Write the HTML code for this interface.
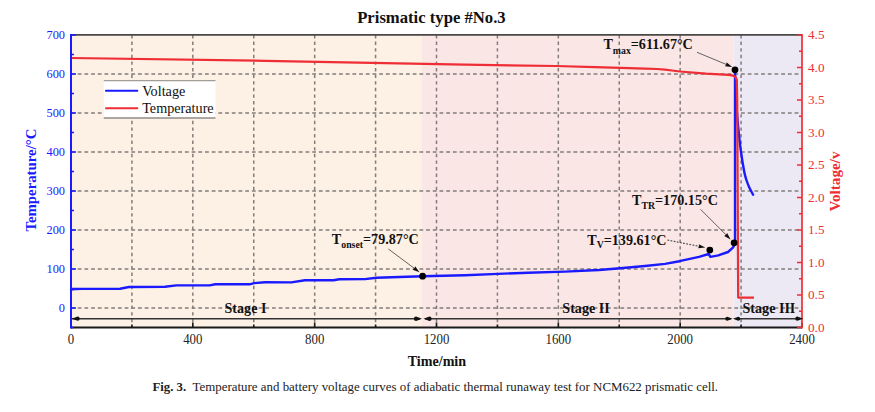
<!DOCTYPE html><html><head><meta charset="utf-8"><style>html,body{margin:0;padding:0;background:#fff;width:875px;height:412px;overflow:hidden}svg{display:block}text{font-family:"Liberation Serif",serif}</style></head><body>
<svg width="875" height="412" viewBox="0 0 875 412">
<rect x="0" y="0" width="875" height="412" fill="#fff"/>
<rect x="71.0" y="35.0" width="351.0" height="292.5" fill="#fdf0e4"/>
<rect x="422.0" y="35.0" width="311.5" height="292.5" fill="#fbe6e6"/>
<rect x="733.5" y="35.0" width="68.5" height="292.5" fill="#ede9f4"/>
<path d="M131.92 35.0 V327.5 M192.83 35.0 V327.5 M253.75 35.0 V327.5 M314.67 35.0 V327.5 M375.58 35.0 V327.5 M436.50 35.0 V327.5 M497.42 35.0 V327.5 M558.33 35.0 V327.5 M619.25 35.0 V327.5 M680.17 35.0 V327.5 M741.08 35.0 V327.5" stroke="#827d7a" stroke-width="1.5" stroke-dasharray="3.4 3.2" fill="none"/>
<path d="M71.0 308.00 H802.0 M71.0 269.00 H802.0 M71.0 230.00 H802.0 M71.0 191.00 H802.0 M71.0 152.00 H802.0 M71.0 113.00 H802.0 M71.0 74.00 H802.0" stroke="#827d7a" stroke-width="1.5" stroke-dasharray="3.8 2.9" fill="none"/>
<rect x="103.8" y="80.2" width="111.7" height="37.8" fill="#fff"/>
<line x1="103.8" y1="80.6" x2="215.5" y2="80.6" stroke="#a39d98" stroke-width="1.2"/>
<line x1="103.8" y1="118.0" x2="215.5" y2="118.0" stroke="#8f8b88" stroke-width="1.6"/>
<line x1="106" y1="90.7" x2="137.3" y2="90.7" stroke="#1a1aff" stroke-width="2.1" stroke-linecap="round"/>
<line x1="106" y1="108.3" x2="137.3" y2="108.3" stroke="#ef2d35" stroke-width="2.1" stroke-linecap="round"/>
<text x="142.2" y="95.7" font-size="14.2" fill="#111">Voltage</text>
<text x="142.2" y="112.8" font-size="14.2" fill="#111">Temperature</text>
<path d="M71.0 289.5 L75.0 289.0 L82.0 288.9 L120.0 288.7 L129.0 287.0 L165.0 286.8 L176.4 285.4 L209.6 285.4 L215.3 284.3 L249.6 284.3 L254.1 283.1 L265.0 282.3 L291.3 282.4 L305.0 280.2 L333.6 280.2 L339.3 279.3 L365.0 279.1 L376.4 277.7 L422.5 276.3 L465.0 275.2 L498.0 273.9 L528.0 272.7 L565.0 271.6 L599.0 270.0 L620.0 268.3 L645.0 266.0 L665.0 263.9 L679.4 261.2 L699.0 256.9 L708.6 254.0 L710.4 256.9 L718.3 255.4 L728.0 252.0 L732.9 247.6 L735.0 243.7 L735.0 70.0 C735.12 73.67 735.38 85.00 735.70 92.00 C736.02 99.00 736.43 105.67 736.90 112.00 C737.37 118.33 737.82 123.33 738.50 130.00 C739.18 136.67 740.03 145.00 741.00 152.00 C741.97 159.00 743.37 167.25 744.30 172.00 C745.23 176.75 745.78 177.97 746.60 180.50 C747.42 183.03 748.12 184.83 749.20 187.20 C750.28 189.57 752.45 193.45 753.10 194.70" stroke="#1a1aff" stroke-width="2.4" fill="none" stroke-linejoin="round" stroke-linecap="round"/>
<path d="M71.0 58.0 L265.0 60.8 L465.0 64.6 L556.0 66.0 L595.0 67.1 L620.5 67.9 L645.0 68.6 L657.0 69.0 L665.0 69.6 L672.0 70.5 L680.0 71.5 L706.0 73.6 L728.7 74.9 L733.0 75.6 L735.5 77.0 L736.8 80.0 L737.2 100.0 L738.2 297.6 L754.0 297.7" stroke="#ef2d35" stroke-width="2.25" fill="none" stroke-linejoin="round"/>
<line x1="71.0" y1="34.9" x2="802.0" y2="34.9" stroke="#4a4847" stroke-width="1.8"/>
<line x1="71.0" y1="327.5" x2="802.0" y2="327.5" stroke="#1a1a1a" stroke-width="2"/>
<path d="M71.00 327.5 V322.5 M131.92 327.5 V324.5 M192.83 327.5 V322.5 M253.75 327.5 V324.5 M314.67 327.5 V322.5 M375.58 327.5 V324.5 M436.50 327.5 V322.5 M497.42 327.5 V324.5 M558.33 327.5 V322.5 M619.25 327.5 V324.5 M680.17 327.5 V322.5 M741.08 327.5 V324.5 M802.00 327.5 V322.5" stroke="#1a1a1a" stroke-width="1.6" fill="none"/>
<line x1="71.0" y1="34.0" x2="71.0" y2="328.5" stroke="#1a1aff" stroke-width="2"/>
<path d="M71.0 327.50 H74.0 M71.0 308.00 H76.0 M71.0 288.50 H74.0 M71.0 269.00 H76.0 M71.0 249.50 H74.0 M71.0 230.00 H76.0 M71.0 210.50 H74.0 M71.0 191.00 H76.0 M71.0 171.50 H74.0 M71.0 152.00 H76.0 M71.0 132.50 H74.0 M71.0 113.00 H76.0 M71.0 93.50 H74.0 M71.0 74.00 H76.0 M71.0 54.50 H74.0 M71.0 35.00 H76.0" stroke="#1a1aff" stroke-width="1.6" fill="none"/>
<line x1="802.0" y1="34.0" x2="802.0" y2="328.5" stroke="#ef2d35" stroke-width="1.7"/>
<path d="M802.0 327.50 H797.0 M802.0 311.25 H799.0 M802.0 295.00 H797.0 M802.0 278.75 H799.0 M802.0 262.50 H797.0 M802.0 246.25 H799.0 M802.0 230.00 H797.0 M802.0 213.75 H799.0 M802.0 197.50 H797.0 M802.0 181.25 H799.0 M802.0 165.00 H797.0 M802.0 148.75 H799.0 M802.0 132.50 H797.0 M802.0 116.25 H799.0 M802.0 100.00 H797.0 M802.0 83.75 H799.0 M802.0 67.50 H797.0 M802.0 51.25 H799.0 M802.0 35.00 H797.0" stroke="#ef2d35" stroke-width="1.6" fill="none"/>
<text transform="translate(65,312.30) scale(0.93,1)" font-size="13.3" fill="#1a1aff" text-anchor="end">0</text>
<text transform="translate(65,273.30) scale(0.93,1)" font-size="13.3" fill="#1a1aff" text-anchor="end">100</text>
<text transform="translate(65,234.30) scale(0.93,1)" font-size="13.3" fill="#1a1aff" text-anchor="end">200</text>
<text transform="translate(65,195.30) scale(0.93,1)" font-size="13.3" fill="#1a1aff" text-anchor="end">300</text>
<text transform="translate(65,156.30) scale(0.93,1)" font-size="13.3" fill="#1a1aff" text-anchor="end">400</text>
<text transform="translate(65,117.30) scale(0.93,1)" font-size="13.3" fill="#1a1aff" text-anchor="end">500</text>
<text transform="translate(65,78.30) scale(0.93,1)" font-size="13.3" fill="#1a1aff" text-anchor="end">600</text>
<text transform="translate(65,39.30) scale(0.93,1)" font-size="13.3" fill="#1a1aff" text-anchor="end">700</text>
<text x="808" y="331.90" font-size="13.2" fill="#ef2d35">0.0</text>
<text x="808" y="299.40" font-size="13.2" fill="#ef2d35">0.5</text>
<text x="808" y="266.90" font-size="13.2" fill="#ef2d35">1.0</text>
<text x="808" y="234.40" font-size="13.2" fill="#ef2d35">1.5</text>
<text x="808" y="201.90" font-size="13.2" fill="#ef2d35">2.0</text>
<text x="808" y="169.40" font-size="13.2" fill="#ef2d35">2.5</text>
<text x="808" y="136.90" font-size="13.2" fill="#ef2d35">3.0</text>
<text x="808" y="104.40" font-size="13.2" fill="#ef2d35">3.5</text>
<text x="808" y="71.90" font-size="13.2" fill="#ef2d35">4.0</text>
<text x="808" y="39.40" font-size="13.2" fill="#ef2d35">4.5</text>
<text transform="translate(71.00,343.6) scale(0.93,1)" font-size="13.8" fill="#222" text-anchor="middle">0</text>
<text transform="translate(192.83,343.6) scale(0.93,1)" font-size="13.8" fill="#222" text-anchor="middle">400</text>
<text transform="translate(314.67,343.6) scale(0.93,1)" font-size="13.8" fill="#222" text-anchor="middle">800</text>
<text transform="translate(436.50,343.6) scale(0.93,1)" font-size="13.8" fill="#222" text-anchor="middle">1200</text>
<text transform="translate(558.33,343.6) scale(0.93,1)" font-size="13.8" fill="#222" text-anchor="middle">1600</text>
<text transform="translate(680.17,343.6) scale(0.93,1)" font-size="13.8" fill="#222" text-anchor="middle">2000</text>
<text transform="translate(802.00,343.6) scale(0.93,1)" font-size="13.8" fill="#222" text-anchor="middle">2400</text>
<text x="357.2" y="22.6" font-size="17.2" font-weight="bold" fill="#111" textLength="148.5" lengthAdjust="spacingAndGlyphs">Prismatic type #No.3</text>
<text x="436.9" y="365.9" font-size="14.1" font-weight="bold" fill="#111" text-anchor="middle">Time/min</text>
<text transform="translate(36,180.1) rotate(-90)" font-size="14.8" font-weight="bold" fill="#1a1aff" text-anchor="middle">Temperature/°C</text>
<text transform="translate(840,181.5) rotate(-90)" font-size="15.2" font-weight="bold" fill="#ef2d35" text-anchor="middle">Voltage/v</text>
<text x="224.5" y="312.6" font-size="14.1" font-weight="bold" fill="#111">Stage I</text>
<text x="562.3" y="312.6" font-size="14.1" font-weight="bold" fill="#111">Stage II</text>
<text x="742.5" y="312.6" font-size="14.1" font-weight="bold" fill="#111">Stage III</text>
<line x1="72" y1="318.7" x2="420" y2="318.7" stroke="#333" stroke-width="1.55"/>
<line x1="425" y1="318.7" x2="731" y2="318.7" stroke="#333" stroke-width="1.55"/>
<line x1="736" y1="318.7" x2="800" y2="318.7" stroke="#333" stroke-width="1.55"/>
<path d="M71.8 318.7 L77.6 316.55 A2.15 2.15 0 0 1 77.6 320.84999999999997 Z M422 318.7 L416.1 316.5 A2.2 2.2 0 0 0 416.1 320.9 Z M423.5 318.7 L429.4 316.5 A2.2 2.2 0 0 1 429.4 320.9 Z M732.5 318.7 L727.3 316.65 A2.05 2.05 0 0 0 727.3 320.75 Z M733.0 318.7 L738.2 316.65 A2.05 2.05 0 0 1 738.2 320.75 Z M803.2 318.7 L797.4000000000001 316.55 A2.15 2.15 0 0 0 797.4000000000001 320.84999999999997 Z" fill="#111"/>
<line x1="388.4" y1="249" x2="415.49" y2="269.21" stroke="#4a4a4a" stroke-width="0.85"/>
<path d="M419.50 272.20 L412.63 269.70 L414.37 268.37 L415.14 266.33 Z" fill="#111"/>
<circle cx="422.6" cy="276.2" r="3.4" fill="#000"/>
<line x1="697" y1="52.3" x2="727.58" y2="64.98" stroke="#4a4a4a" stroke-width="0.85"/>
<path d="M732.20 66.90 L724.93 66.16 L726.29 64.45 L726.54 62.28 Z" fill="#111"/>
<circle cx="735" cy="69.8" r="3.4" fill="#000"/>
<line x1="700.5" y1="209.3" x2="727.06" y2="235.86" stroke="#4a4a4a" stroke-width="0.85"/>
<path d="M730.60 239.40 L724.17 235.94 L726.07 234.87 L727.14 232.97 Z" fill="#111"/>
<circle cx="734.1" cy="242.8" r="3.4" fill="#000"/>
<line x1="667.4" y1="240" x2="700.40" y2="246.62" stroke="#4a4a4a" stroke-width="1.15" stroke-dasharray="1.8 1.4"/>
<path d="M705.30 247.60 L698.02 248.28 L699.02 246.34 L698.85 244.16 Z" fill="#111"/>
<circle cx="709.8" cy="250.1" r="3.4" fill="#000"/>
<text x="331.8" y="243.6" font-size="14.15" font-weight="bold" fill="#111">T<tspan font-size="9.8" dy="4.0">onset</tspan><tspan dy="-4.0">=79.87°C</tspan></text>
<text x="603.4" y="49.4" font-size="14.15" font-weight="bold" fill="#111">T<tspan font-size="9.8" dy="4.2">max</tspan><tspan dy="-4.2">=611.67°C</tspan></text>
<text x="632.0" y="204.8" font-size="14.15" font-weight="bold" fill="#111">T<tspan font-size="9.8" dy="3.9">TR</tspan><tspan dy="-3.9">=170.15°C</tspan></text>
<text x="587.2" y="245.4" font-size="14.15" font-weight="bold" fill="#111">T<tspan font-size="9.8" dy="2.9">V</tspan><tspan dy="-2.9">=139.61°C</tspan></text>
<text x="152.5" y="391" font-size="12.6" font-weight="bold" fill="#222" textLength="33.6" lengthAdjust="spacingAndGlyphs">Fig. 3.</text>
<text x="192.6" y="391" font-size="12.4" fill="#222" textLength="525.5" lengthAdjust="spacingAndGlyphs">Temperature and battery voltage curves of adiabatic thermal runaway test for NCM622 prismatic cell.</text>
</svg></body></html>
